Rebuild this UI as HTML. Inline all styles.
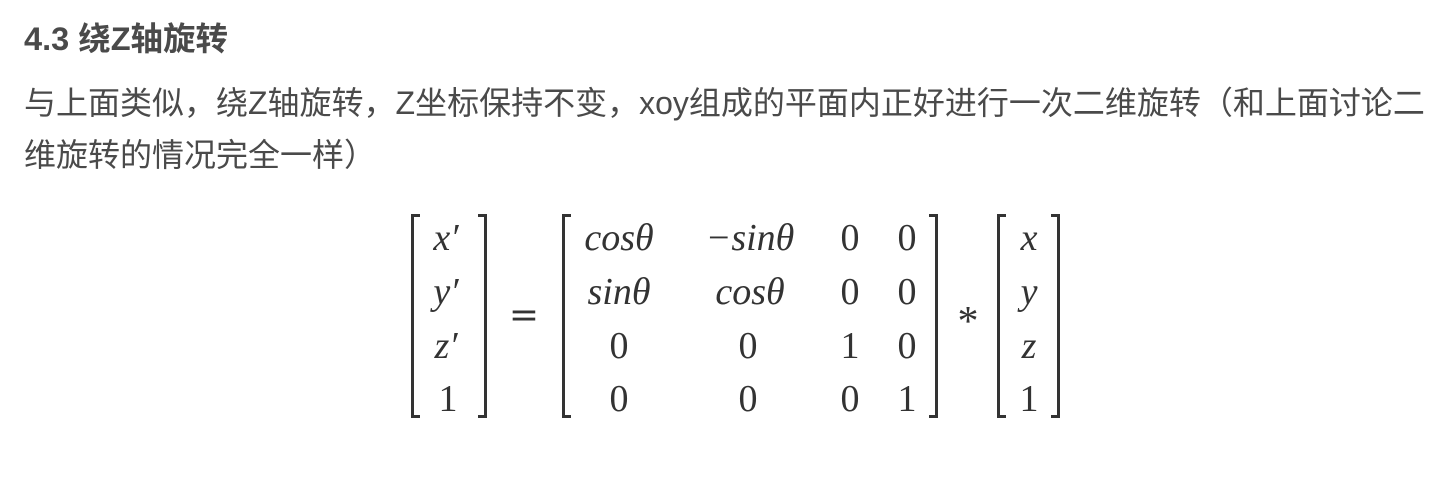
<!DOCTYPE html>
<html><head><meta charset="utf-8"><style>
html,body{margin:0;padding:0;background:#fff;width:1437px;height:482px;overflow:hidden;position:relative}
.t{position:absolute;left:24px;color:#4a4a4a;font-family:"Liberation Sans","Noto Sans CJK SC",sans-serif;white-space:nowrap}
.h{top:17px;font-size:32.5px;font-weight:bold;line-height:44px}
.p{font-size:32px;line-height:52px}
.m{position:absolute;font-family:"Liberation Serif","DejaVu Serif",serif;font-size:38px;color:#333;line-height:44px;transform:translate(-50%,-50%);white-space:nowrap}
.i{font-style:italic}
.bl,.br{position:absolute;top:214px;height:204px;width:9px;border-top:3px solid #333;border-bottom:3px solid #333;box-sizing:border-box}
.bl{border-left:3px solid #333}
.br{border-right:3px solid #333}
</style></head><body>
<div class="t h">4.3 绕Z轴旋转</div>
<div class="t p" style="top:77px">与上面类似，绕Z轴旋转，Z坐标保持不变，xoy组成的平面内正好进行一次二维旋转（和上面讨论二</div>
<div class="t p" style="top:129px">维旋转的情况完全一样）</div>

<div class="bl" style="left:411px"></div><div class="br" style="left:478px"></div>
<div class="bl" style="left:562px"></div><div class="br" style="left:929px"></div>
<div class="bl" style="left:997px"></div><div class="br" style="left:1051px"></div>

<div class="m i" style="left:446px;top:238px">x′</div>
<div class="m i" style="left:446px;top:292px">y′</div>
<div class="m i" style="left:446px;top:346px">z′</div>
<div class="m" style="left:448px;top:399px">1</div>
<div class="m" style="left:524px;top:316px;font-family:'DejaVu Serif',serif;font-size:36px">=</div>

<div class="m i" style="left:619px;top:238px">cosθ</div>
<div class="m i" style="left:750px;top:238px">−sinθ</div>
<div class="m" style="left:850px;top:238px">0</div>
<div class="m" style="left:907px;top:238px">0</div>

<div class="m i" style="left:619px;top:292px">sinθ</div>
<div class="m i" style="left:750px;top:292px">cosθ</div>
<div class="m" style="left:850px;top:292px">0</div>
<div class="m" style="left:907px;top:292px">0</div>

<div class="m" style="left:619px;top:346px">0</div>
<div class="m" style="left:748px;top:346px">0</div>
<div class="m" style="left:850px;top:346px">1</div>
<div class="m" style="left:907px;top:346px">0</div>

<div class="m" style="left:619px;top:399px">0</div>
<div class="m" style="left:748px;top:399px">0</div>
<div class="m" style="left:850px;top:399px">0</div>
<div class="m" style="left:907px;top:399px">1</div>

<div class="m" style="left:968px;top:322px;font-size:42px">*</div>

<div class="m i" style="left:1029px;top:238px">x</div>
<div class="m i" style="left:1029px;top:292px">y</div>
<div class="m i" style="left:1029px;top:346px">z</div>
<div class="m" style="left:1029px;top:399px">1</div>
</body></html>
